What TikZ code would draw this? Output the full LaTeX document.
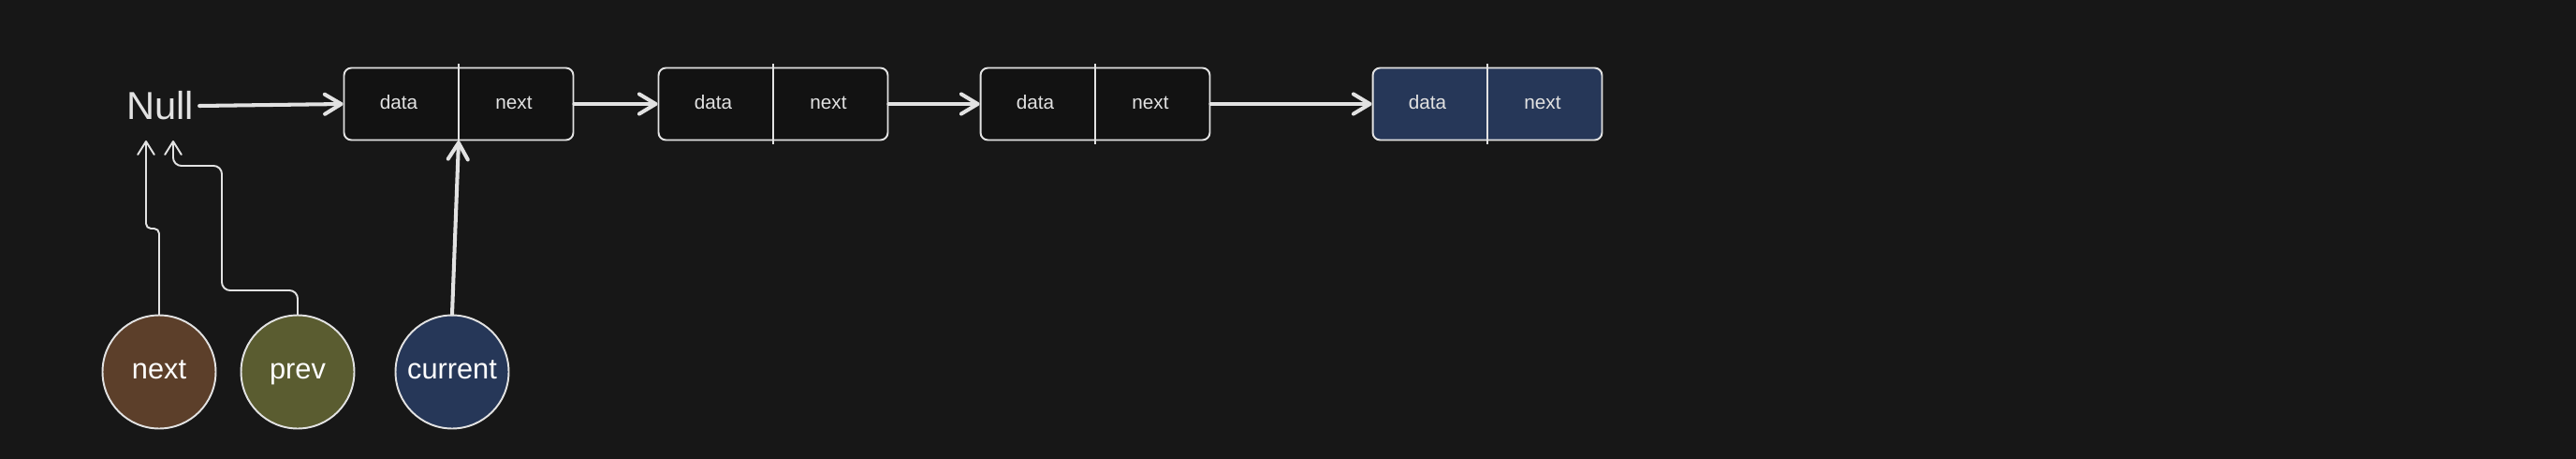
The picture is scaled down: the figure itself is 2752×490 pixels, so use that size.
\documentclass[tikz,border=0pt]{standalone}
\usepackage{fontspec}
\setmainfont{Liberation Sans}
\usetikzlibrary{arrows.meta}
\definecolor{bgcol}{HTML}{171717}
\definecolor{boxfill}{HTML}{121212}
\definecolor{linecol}{HTML}{E2E2E2}
\definecolor{navyfill}{HTML}{263758}
\definecolor{nextfill}{HTML}{5C3F2A}
\definecolor{prevfill}{HTML}{5A5C30}
\tikzset{
    block/.style={draw=linecol, fill=boxfill, rectangle, rounded corners=4.5pt, line width=1.1pt, minimum width=4.9cm, minimum height=1.54cm},
    field/.style={text=linecol, text height=6.1pt, text depth=0pt, font=\fontsize{11.8}{14}\selectfont},
    var/.style={draw=linecol, circle, line width=1.1pt, minimum size=2.42cm, inner sep=0pt, text=white, text height=9.1pt, text depth=0pt, font=\fontsize{17.5}{21}\selectfont},
    divider/.style={draw=linecol, line width=1.1pt},
    arr/.style={-{Straight Barb[length=10pt, width=12pt, round]}, draw=linecol, line width=2.3pt, line cap=round},
    thinarr/.style={-{Straight Barb[length=8pt, width=10pt, round]}, draw=linecol, line width=1.1pt, line cap=round}
}
\begin{document}
\begin{tikzpicture}[x=0.02cm, y=-0.02cm]
        % Background
        \fill [bgcol] (0,0) rectangle (2752,490);
        \useasboundingbox (0,0) rectangle (2752,490);

        % Null label and arrow targets below it
        \node [text=linecol, font=\fontsize{23.7}{28}\selectfont] (null) at (171,113) {Null};
        \coordinate (nullL) at (156,150);
        \coordinate (nullR) at (185,150);

        % List nodes
        \node [block] (box1) at (490,111) {};
        \node [field] (data1) at (426,111) {data};
        \node [field] (next1) at (549,111) {next};
        \draw [divider] ([yshift=2pt]box1.north) -- ([yshift=-2pt]box1.south);

        \node [block] (box2) at (826,111) {};
        \node [field] (data2) at (762,111) {data};
        \node [field] (next2) at (885,111) {next};
        \draw [divider] ([yshift=2pt]box2.north) -- ([yshift=-2pt]box2.south);

        \node [block] (box3) at (1170,111) {};
        \node [field] (data3) at (1106,111) {data};
        \node [field] (next3) at (1229,111) {next};
        \draw [divider] ([yshift=2pt]box3.north) -- ([yshift=-2pt]box3.south);

        \node [block, fill=navyfill] (box4) at (1589,111) {};
        \node [field] (data4) at (1525,111) {data};
        \node [field] (next4) at (1648,111) {next};
        \draw [divider] ([yshift=2pt]box4.north) -- ([yshift=-2pt]box4.south);

        % Pointer variables
        \node [var, fill=nextfill] (next) at (170,397) {next};
        \node [var, fill=prevfill] (prev) at (318,397) {prev};
        \node [var, fill=navyfill] (current) at (483,397) {current};

        % Arrows
        \draw [arr] (null.east) -- (box1.west);
        \draw [arr] (box1.east) -- (box2.west);
        \draw [arr] (box2.east) -- (box3.west);
        \draw [arr] (box3.east) -- (box4.west);
        \draw [arr] (current.north) -- (box1.south);
        \draw [thinarr, rounded corners=3pt] (next.north) -- (170,244) -| (nullL);
        \draw [thinarr, rounded corners=5pt] (prev.north) |- (237,310) -- (237,177) -| (nullR);
    \end{tikzpicture}
\end{document}
